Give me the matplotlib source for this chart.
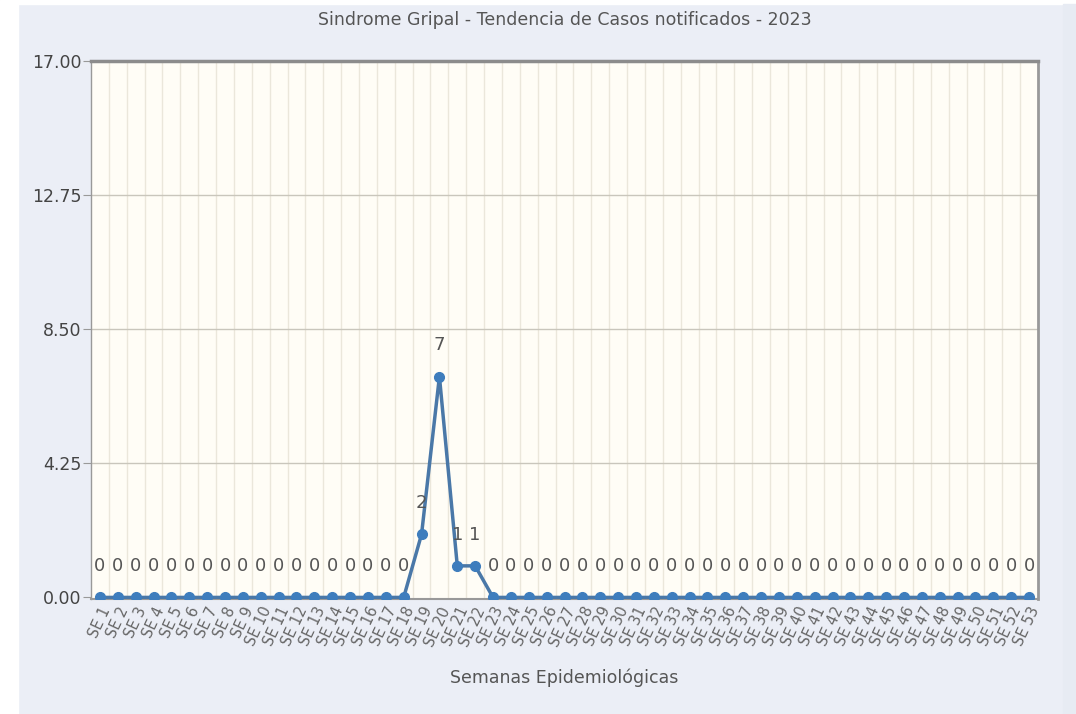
import matplotlib
matplotlib.use("Agg")
import matplotlib.pyplot as plt
from matplotlib.patches import Rectangle
import numpy as np

weeks = [f"SE {i}" for i in range(1, 54)]
cases = [0] * 18 + [2, 7, 1, 1] + [0] * 31
yticks = [0.00, 4.25, 8.50, 12.75, 17.00]

W, H = 1076, 714
fig = plt.figure(figsize=(W / 100, H / 100), dpi=100, facecolor="#ebeef6")

# page margins around the chart panel
fig.patches.append(Rectangle((0, 0), 18 / W, 1, transform=fig.transFigure,
                             color="white", zorder=-1))
fig.patches.append(Rectangle((0, 1 - 4 / H), 1, 4 / H, transform=fig.transFigure,
                             color="white", zorder=-1))
fig.patches.append(Rectangle((1063 / W, 0), 13 / W, 1 - 4 / H, transform=fig.transFigure,
                             color="#e7ebf3", zorder=-1))

ax = fig.add_axes([91 / W, 1 - 599 / H, (1038 - 91) / W, (599 - 61) / H])
ax.set_facecolor("#fffdf6")

x = np.arange(len(weeks))
ax.set_xlim(-0.5, len(weeks) - 0.5)
ax.set_ylim(-0.05, 17)

# category grid lines between weeks
for xv in np.arange(0.5, len(weeks) - 0.5):
    ax.axvline(xv, color="#ebe7db", lw=1, zorder=0)
for yv in yticks[1:-1]:
    ax.axhline(yv, color="#c9c6bc", lw=1, zorder=0)

ax.plot(x, cases, color="#4a78a8", lw=2.5, zorder=3)
ax.plot(x, cases, "o", color="#3e7dbd", ms=7, zorder=4)

for xi, v in zip(x, cases):
    ax.annotate(str(v), (xi, v), xytext=(0, 16), textcoords="offset points",
                ha="center", va="bottom", fontsize=13, color="#555555")

ax.set_yticks(yticks)
ax.set_yticklabels([f"{v:.2f}" for v in yticks], fontsize=12.5, color="#444444")
ax.set_xticks(x)
ax.set_xticklabels(weeks, rotation=65, ha="right", rotation_mode="anchor",
                   fontsize=10.5, color="#666666")
ax.tick_params(axis="y", length=6, color="#999999", pad=1)
ax.tick_params(axis="x", length=0, pad=4)

for side in ["top", "right", "bottom", "left"]:
    ax.spines[side].set_color("#999999")
ax.spines["top"].set_color("#8c8c8c")
ax.spines["top"].set_linewidth(2.5)
ax.spines["right"].set_linewidth(2)
ax.spines["left"].set_linewidth(1)
ax.spines["bottom"].set_linewidth(1.5)

ax.set_title("Sindrome Gripal - Tendencia de Casos notificados - 2023",
             fontsize=12.5, color="#555555", pad=26)
ax.set_xlabel("Semanas Epidemiológicas", fontsize=12.5, color="#555555", labelpad=14)

fig.savefig("out.png", dpi=100, facecolor=fig.get_facecolor())
